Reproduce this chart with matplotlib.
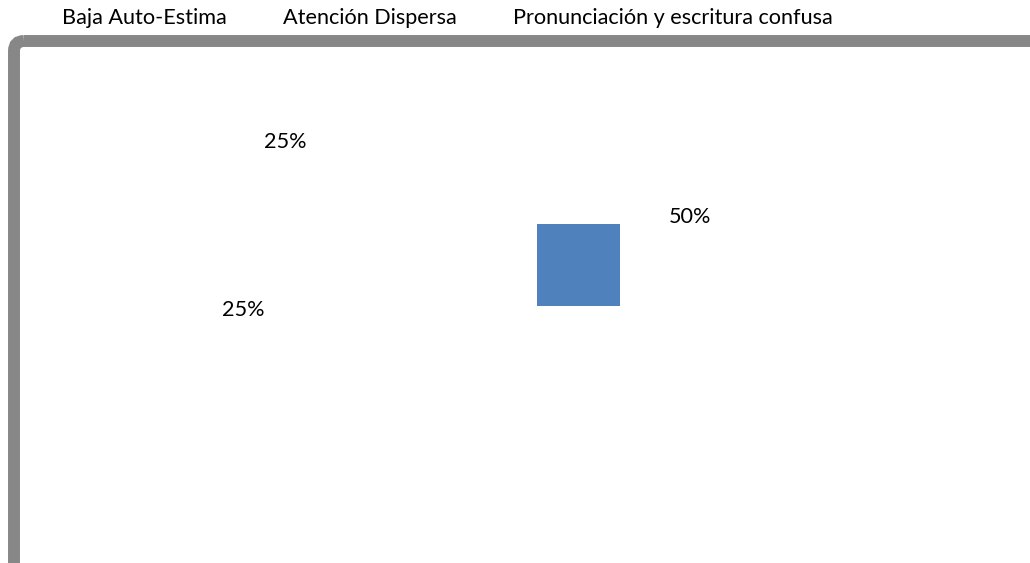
import matplotlib
matplotlib.use('Agg')
import matplotlib.pyplot as plt
from matplotlib.patches import FancyBboxPatch, Rectangle

categorias = ['Baja Auto-Estima', 'Atención Dispersa', 'Pronunciación y escritura confusa']
valores = [25, 25, 50]
etiquetas = ['%d%%' % v for v in valores]

plt.rcParams['font.family'] = ['Lato', 'DejaVu Sans']

fig = plt.figure(figsize=(10.3, 5.63), dpi=100)
ax = fig.add_axes([0, 0, 1, 1])
ax.set_xlim(0, 1030)
ax.set_ylim(563, 0)
ax.axis('off')

# marco gris
marco = FancyBboxPatch((14, 41), 1100, 600, boxstyle='round,pad=0,rounding_size=10',
                       fill=False, edgecolor='#878787', linewidth=8.6)
ax.add_patch(marco)

# leyenda (sin marcadores)
x_leyenda = [62, 283, 513]
for x, c in zip(x_leyenda, categorias):
    ax.text(x, 18, c, fontsize=15.6, va='center', ha='left', color='#000000')

# etiquetas de datos
pos_etiquetas = [(243, 310), (285, 142), (690, 217)]
for (x, y), t in zip(pos_etiquetas, etiquetas):
    ax.text(x, y, t, fontsize=15.6, va='center', ha='center', color='#000000')

# el unico sector visible
ax.add_patch(Rectangle((537, 224), 83, 82, facecolor='#4F81BD', edgecolor='none'))

fig.savefig('out.png', dpi=100)
